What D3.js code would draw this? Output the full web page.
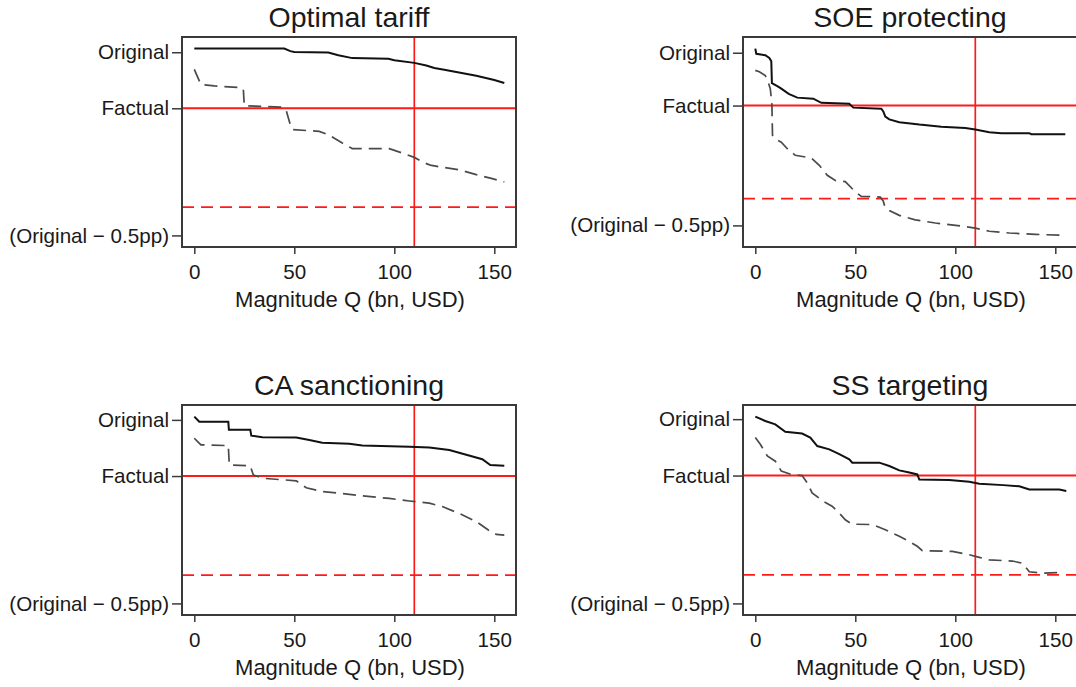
<!DOCTYPE html>
<html>
<head>
<meta charset="utf-8">
<script src="https://cdn.jsdelivr.net/npm/d3@7"></script>
<style>
  body { margin: 0; background: #fff; }
  text { font-family: "Liberation Sans", Arial, sans-serif; fill: #1a1a1a; }
</style>
</head>
<body>
<svg id="chart" width="1076" height="687"></svg>
<script>
// values are in pp relative to the Original rate (0 = Original)
var panelTitles = ["Optimal tariff", "SOE protecting", "CA sanctioning", "SS targeting"];
var xTicks = [0, 50, 100, 150];
var yTickValues = [0, -0.153, -0.5];
var yTickLabels = ["Original", "Factual", "(Original \u2212 0.5pp)"];
var factualLevel = -0.153;
var thresholdLevel = -0.4227;
var referenceQ = 110;

var optimalSolid = [[0,0.010],[45,0.010],[48,0.003],[50,0.001],[67,-0.001],[72,-0.008],[79,-0.016],[97,-0.018],[100,-0.022],[110,-0.029],[116,-0.036],[120,-0.043],[125,-0.048],[133,-0.056],[141,-0.064],[150,-0.076],[155,-0.084]];
var optimalDashed = [[0,-0.047],[3.3,-0.088],[10,-0.092],[22.5,-0.096],[24.5,-0.100],[25,-0.146],[44,-0.150],[46,-0.160],[48,-0.198],[49,-0.211],[62.5,-0.216],[67,-0.225],[74,-0.248],[79,-0.263],[97.5,-0.263],[104,-0.275],[110,-0.287],[115,-0.302],[118,-0.308],[124,-0.314],[132.5,-0.321],[141,-0.334],[149,-0.345],[155,-0.354]];

var soeSolid = [[0,0.012],[0.5,-0.003],[5,-0.007],[7,-0.015],[8,-0.025],[8.3,-0.088],[11,-0.097],[13,-0.104],[16.7,-0.119],[21,-0.130],[29,-0.133],[33,-0.145],[47,-0.148],[49,-0.159],[63,-0.162],[64,-0.170],[65,-0.185],[67,-0.193],[72,-0.201],[82,-0.208],[93,-0.214],[105,-0.218],[110,-0.222],[117,-0.230],[123,-0.233],[137,-0.233],[138,-0.236],[155,-0.236]];
var soeDashed = [[0,-0.051],[2,-0.055],[5,-0.066],[6.7,-0.090],[7.5,-0.104],[8.3,-0.150],[8.6,-0.239],[10,-0.250],[13,-0.259],[16,-0.278],[20,-0.297],[28,-0.305],[32,-0.326],[36,-0.355],[40,-0.370],[45,-0.373],[50,-0.403],[53,-0.416],[62.5,-0.418],[64,-0.430],[65,-0.450],[67,-0.457],[72,-0.471],[80,-0.484],[90,-0.493],[103,-0.502],[110,-0.508],[117,-0.517],[127,-0.522],[140,-0.526],[155,-0.529]];

var caSolid = [[0,0.009],[2.5,-0.005],[17,-0.005],[17.3,-0.027],[28,-0.027],[28.5,-0.043],[34,-0.047],[51,-0.048],[57.5,-0.055],[64,-0.062],[77.5,-0.065],[84,-0.070],[107.5,-0.073],[117.5,-0.075],[127.5,-0.082],[136,-0.095],[144,-0.107],[148,-0.123],[155,-0.125]];
var caDashed = [[0,-0.050],[3.3,-0.068],[17,-0.070],[17.5,-0.123],[28,-0.125],[29.5,-0.150],[34,-0.159],[51,-0.166],[56,-0.185],[64,-0.195],[81,-0.205],[97.5,-0.214],[107.5,-0.221],[117.5,-0.227],[124,-0.236],[132.5,-0.255],[141,-0.277],[147,-0.300],[151,-0.312],[155,-0.314]];

var ssSolid = [[0,0.007],[5,-0.005],[10,-0.014],[15,-0.034],[23.4,-0.039],[27.5,-0.050],[31,-0.073],[37,-0.082],[42,-0.095],[47,-0.109],[48.5,-0.118],[62,-0.118],[67,-0.127],[72,-0.139],[77,-0.145],[81,-0.150],[82,-0.164],[97,-0.165],[107,-0.170],[112,-0.175],[124,-0.179],[132,-0.182],[137,-0.191],[152,-0.191],[155.5,-0.195]];
var ssDashed = [[0,-0.050],[2.5,-0.068],[6,-0.100],[10,-0.114],[13,-0.141],[18,-0.150],[23.4,-0.153],[26,-0.173],[28.4,-0.200],[34,-0.223],[38.4,-0.236],[42,-0.255],[45,-0.273],[48.4,-0.285],[58.5,-0.286],[65,-0.300],[72,-0.318],[77,-0.332],[81,-0.345],[83.5,-0.357],[98.5,-0.359],[107,-0.368],[112,-0.375],[117,-0.382],[128.6,-0.385],[133.6,-0.391],[137,-0.414],[143.6,-0.418],[153,-0.416]];

var solidSeries = [optimalSolid, soeSolid, caSolid, ssSolid];
var dashedSeries = [optimalDashed, soeDashed, caDashed, ssDashed];

// panel layout
var boxW = 334, boxH = 210;
var origins = [{ left: 182, top: 37 }, { left: 743, top: 37 }, { left: 182, top: 405 }, { left: 743, top: 405 }];
var frameColor = "#3a3a3a";
var font = "'Liberation Sans', Arial, sans-serif";

var svg = d3.select("#chart");

panelTitles.forEach(function(title, i) {
  var o = origins[i];
  var g = svg.append("g").attr("transform", "translate(" + o.left + "," + o.top + ")");

  var x = d3.scaleLinear().domain([-6.15, 160.85]).range([0, boxW]);

  // y range covers the data and the ticks, with a small margin like Stata
  var vals = solidSeries[i].concat(dashedSeries[i]).map(function(d) { return d[1]; }).concat(yTickValues);
  var lo = d3.min(vals), hi = d3.max(vals);
  var pad = (hi - lo) * 0.062;
  var y = d3.scaleLinear().domain([lo - pad, hi + pad]).range([boxH, 0]);

  // reference lines
  g.append("line")
    .attr("x1", 0).attr("x2", boxW)
    .attr("y1", y(factualLevel)).attr("y2", y(factualLevel))
    .attr("stroke", "#ff1a1a").attr("stroke-width", 2);
  g.append("line")
    .attr("x1", 0).attr("x2", boxW)
    .attr("y1", y(thresholdLevel)).attr("y2", y(thresholdLevel))
    .attr("stroke", "#ff1a1a").attr("stroke-width", 1.7)
    .attr("stroke-dasharray", "12,7");
  g.append("line")
    .attr("x1", x(referenceQ)).attr("x2", x(referenceQ))
    .attr("y1", 0).attr("y2", boxH)
    .attr("stroke", "#ff1a1a").attr("stroke-width", 1.7);

  var line = d3.line()
    .x(function(d) { return x(d[0]); })
    .y(function(d) { return y(d[1]); });

  g.append("path")
    .datum(dashedSeries[i])
    .attr("d", line)
    .attr("fill", "none")
    .attr("stroke", "#4a4a4a")
    .attr("stroke-width", 1.7)
    .attr("stroke-dasharray", "13,7");

  g.append("path")
    .datum(solidSeries[i])
    .attr("d", line)
    .attr("fill", "none")
    .attr("stroke", "#111")
    .attr("stroke-width", 2);

  // frame
  g.append("rect")
    .attr("width", boxW).attr("height", boxH)
    .attr("fill", "none")
    .attr("stroke", frameColor)
    .attr("stroke-width", 2);

  // y axis
  var yAxis = g.append("g")
    .call(d3.axisLeft(y)
      .tickValues(yTickValues)
      .tickSize(10)
      .tickPadding(3)
      .tickFormat(function(d, k) { return yTickLabels[k]; }));
  yAxis.select(".domain").remove();
  yAxis.selectAll("line").attr("stroke", frameColor).attr("stroke-width", 1.5);
  yAxis.selectAll("text")
    .attr("font-size", "20.6px")
    .attr("font-family", font)
    .attr("fill", "#1a1a1a");

  // x axis
  var xAxis = g.append("g")
    .attr("transform", "translate(0," + boxH + ")")
    .call(d3.axisBottom(x).tickValues(xTicks).tickSize(7).tickPadding(10));
  xAxis.select(".domain").remove();
  xAxis.selectAll("line").attr("stroke", frameColor).attr("stroke-width", 1.5);
  xAxis.selectAll("text")
    .attr("font-size", "20.6px")
    .attr("font-family", font)
    .attr("fill", "#1a1a1a");

  // x axis label
  g.append("text")
    .attr("x", boxW / 2 + 1)
    .attr("y", boxH + 60)
    .attr("text-anchor", "middle")
    .attr("font-size", "22px")
    .text("Magnitude Q (bn, USD)");

  // panel title
  g.append("text")
    .attr("x", boxW / 2)
    .attr("y", -10)
    .attr("text-anchor", "middle")
    .attr("font-size", "28.5px")
    .text(title);
});
</script>
</body>
</html>
